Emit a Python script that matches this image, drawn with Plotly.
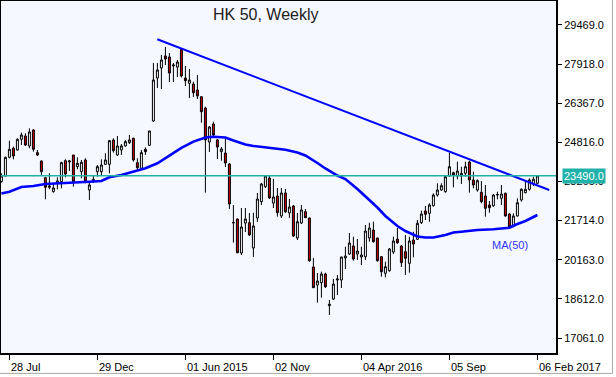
import pandas as pd
import plotly.graph_objects as go

# ---- data (weekly candles, first week 14 Jul 2014) ----
first_week = "2014-07-14"
opens = [23260, 23484, 24224, 24581, 24514, 24937, 25069, 24673, 25307, 24409,
         24079, 23418, 23035, 22863, 23193, 23260, 24092, 24040, 24316, 23854,
         23656, 24118, 22929, 23260, 23656, 23656, 23947, 23947, 24911, 24316,
         24514, 24673, 24805, 24977, 24013, 23788, 24541, 24699, 25664, 27368,
         27765, 28240, 28201, 27844, 27804, 28498, 27368, 27158, 27130, 26892,
         26627, 26179, 24831, 25545, 24914, 24447, 24395, 23959, 21620, 21779,
         20431, 21620, 21632, 20629, 21818, 22465, 23059, 23404, 22413, 22690,
         21898, 22809, 22017, 22294, 21026, 21620, 22068, 21818, 19876, 19163,
         19254, 19599, 18342, 18608, 19361, 19361, 20233, 20391, 20708, 20391,
         20272, 20285, 21026, 21343, 21026, 20285, 19626, 19729, 20471, 20986,
         20708, 20482, 20023, 20946, 20974, 21632, 22096, 22005, 22306, 22730,
         22928, 22861, 23483, 23614, 23483, 23483, 23590, 24038, 23325, 22928,
         22837, 22690, 22334, 22306, 22730, 22599, 22798, 21977, 21501, 21898,
         22532, 22822, 22956, 23166, 23194]
highs = [23590, 24250, 24884, 24647, 24977, 25201, 25175, 25373, 25333, 24514,
         24092, 23431, 23590, 23193, 23431, 24052, 24145, 24118, 24316, 24224,
         24118, 24184, 23260, 23484, 23920, 24145, 24382, 24911, 24977, 25069,
         24752, 24911, 25109, 25003, 24184, 24514, 24620, 25280, 27963, 27963,
         28280, 28597, 28359, 27963, 28082, 28557, 27844, 27725, 27221, 27487,
         26655, 26230, 25466, 25636, 24950, 24633, 24950, 23999, 22334, 21791,
         22215, 22215, 22017, 22028, 22809, 23206, 23523, 23523, 23364, 23008,
         23008, 22968, 22572, 22334, 22017, 22334, 22175, 21830, 20233, 19638,
         19690, 19650, 18568, 19400, 19559, 20285, 20681, 21224, 21077, 20986,
         20681, 21541, 21632, 21672, 21038, 20312, 20086, 20629, 21077, 21422,
         20748, 21145, 21077, 21275, 21739, 22108, 22294, 22401, 22798, 23194,
         23194, 23523, 24407, 23654, 24050, 23852, 24050, 24090, 23654, 23352,
         23285, 23127, 22492, 22770, 22861, 23127, 22822, 22005, 22005, 22599,
         22996, 23325, 23392, 23456, 23523]
lows = [23220, 23458, 24184, 24145, 24488, 24713, 24673, 24581, 24449, 24277,
        23524, 22560, 22956, 22824, 22956, 22995, 23431, 23682, 23061, 23748,
        23392, 23193, 22532, 23220, 23458, 23484, 23920, 23590, 24409, 24277,
        24316, 24647, 24752, 24052, 23722, 23722, 24316, 24673, 25625, 26972,
        26932, 27883, 27209, 27209, 27408, 27388, 27051, 26575, 26615, 26536,
        25596, 22822, 24435, 25069, 24157, 24089, 23840, 22175, 20839, 20419,
        20352, 21263, 21105, 20272, 21660, 22334, 23008, 22572, 22215, 21870,
        21818, 22017, 21818, 21065, 20946, 21581, 21818, 20086, 19044, 18461,
        18659, 19044, 17973, 18568, 18766, 19044, 19797, 20352, 20126, 20154,
        19955, 20154, 20879, 20839, 20086, 19491, 19468, 19690, 20391, 20788,
        19876, 19559, 19650, 20260, 20946, 21581, 21739, 21672, 22266, 22663,
        22901, 22822, 23456, 23035, 23352, 23166, 23456, 22822, 22996, 22861,
        22401, 21870, 22028, 22266, 22560, 22334, 21870, 21450, 21450, 21870,
        22465, 22798, 22901, 23087, 23166]
closes = [23484, 24224, 24541, 24277, 24937, 25109, 24713, 25228, 24541, 24316,
          23656, 23035, 23088, 23009, 23286, 24013, 23563, 24079, 23260, 23986,
          24026, 23260, 23127, 23352, 23854, 23920, 24118, 24884, 24488, 24673,
          24673, 24845, 24911, 24118, 23814, 24409, 24449, 25267, 27289, 27685,
          28082, 28121, 27566, 27883, 28002, 27447, 27261, 27289, 26785, 26655,
          26032, 24914, 25426, 25109, 24633, 24554, 23999, 22373, 21640, 20443,
          21462, 21779, 21145, 21501, 22572, 23166, 23483, 22611, 22651, 22028,
          22809, 22068, 22254, 21105, 21672, 22136, 21830, 20126, 19056, 19321,
          19599, 19095, 18398, 19202, 19400, 20272, 20312, 20827, 20193, 20510,
          20352, 21303, 21422, 20879, 20126, 19690, 19888, 20590, 20907, 20839,
          20047, 20221, 20907, 20788, 21608, 21977, 21965, 22334, 22730, 22928,
          23099, 23456, 23852, 23523, 23682, 23590, 23852, 23325, 23127, 23297,
          22465, 22203, 22227, 22730, 22750, 22770, 21898, 21474, 21898, 22425,
          22956, 22956, 23325, 23352, 23490]

# MA(50): week index -> value
ma_week = [0, 2, 5, 8, 11, 16, 19, 22, 25, 27, 30, 33, 36, 39, 41, 45, 48, 51, 53,
           56, 58, 61, 63, 66, 69, 71, 74, 76, 79, 81, 84, 86, 89, 91, 94, 96, 99,
           101, 104, 106, 108, 111, 113, 115, 119, 123, 127, 129, 131, 133, 134]
ma_vals = [22790, 22861, 23047, 23087, 23166, 23194, 23234, 23257, 23285, 23432,
           23523, 23654, 23789, 23987, 24185, 24601, 24847, 25010, 25037, 25010,
           24891, 24732, 24673, 24621, 24562, 24522, 24415, 24296, 23999, 23781,
           23503, 23364, 22968, 22690, 22235, 21898, 21501, 21303, 21085, 21046,
           21046, 21145, 21244, 21275, 21343, 21371, 21434, 21581, 21700, 21858,
           21937]

trend_dates = ["2015-04-12 18:00", "2017-02-26 18:00"]
trend_vals = [28902, 22928]

last_price = 23490
y_ticks = [17061, 18612, 20163, 21714, 23265, 24816, 26367, 27918, 29469]
x_tick_dates = ["2014-07-28", "2014-12-29", "2015-06-01", "2015-11-02",
                "2016-04-04", "2016-09-05", "2017-02-06"]
x_tick_text = ["28 Jul", "29 Dec", "01 Jun 2015", "02 Nov", "04 Apr 2016",
               "05 Sep", "06 Feb 2017"]
title_text = "HK 50, Weekly"
ma_label = "MA(50)"

dates = pd.date_range(first_week, periods=len(closes), freq="W-MON")
ma_dates = [dates[i] for i in ma_week]

FONT = "Arial, Liberation Sans, sans-serif"

fig = go.Figure()
fig.add_trace(go.Candlestick(
    x=dates, open=opens, high=highs, low=lows, close=closes,
    increasing=dict(line=dict(color="black", width=1), fillcolor="white"),
    decreasing=dict(line=dict(color="black", width=1), fillcolor="#C80000"),
    whiskerwidth=0, showlegend=False, hoverinfo="skip"))
fig.add_trace(go.Scatter(x=ma_dates, y=ma_vals, mode="lines",
                         line=dict(color="#0000FF", width=2.6),
                         showlegend=False, hoverinfo="skip"))
fig.add_trace(go.Scatter(x=trend_dates, y=trend_vals, mode="lines",
                         line=dict(color="#0000FF", width=2),
                         showlegend=False, hoverinfo="skip"))

fig.add_shape(type="line", xref="paper", x0=0, x1=1, yref="y",
              y0=last_price, y1=last_price,
              line=dict(color="#20B2AA", width=1.5))

# outer window frame
fig.add_shape(type="line", xref="paper", yref="paper", x0=1.1018, x1=1.1018,
              y0=-0.058, y1=1.01, line=dict(color="#A8A8A8", width=1))
fig.add_shape(type="line", xref="paper", yref="paper", x0=-0.01, x1=1.1018,
              y0=-0.058, y1=-0.058, line=dict(color="#A8A8A8", width=1))

annotations = []
for d, t in zip(x_tick_dates, x_tick_text):
    annotations.append(dict(x=d, xref="x", y=0, yref="paper", yshift=-6,
                            xanchor="left", yanchor="top", text=t, showarrow=False,
                            font=dict(family=FONT, size=11, color="black")))
annotations.append(dict(x=1, xref="paper", xshift=6, y=last_price, yref="y",
                        xanchor="left", yanchor="middle",
                        text=f"{last_price:.1f}", showarrow=False,
                        bgcolor="#20B2AA", borderpad=1,
                        font=dict(family=FONT, size=11, color="white")))
annotations.append(dict(x=0.4775, xref="paper", y=0.963, yref="paper",
                        xanchor="center", yanchor="middle", text=title_text,
                        showarrow=False,
                        font=dict(family=FONT, size=16, color="#202020")))
annotations.append(dict(x=0.917, xref="paper", y=20748, yref="y",
                        xanchor="center", yanchor="middle", text=ma_label,
                        showarrow=False,
                        font=dict(family=FONT, size=11, color="#3333FF")))

fig.update_layout(
    width=616, height=377,
    margin=dict(l=1, r=60, t=1, b=24),
    paper_bgcolor="white", plot_bgcolor="#F6F8FF",
    showlegend=False,
    annotations=annotations,
    xaxis=dict(type="date", range=["2014-07-13 07:00", "2017-03-10 13:00"],
               showgrid=False, zeroline=False, showline=True, mirror=True,
               linecolor="black", linewidth=2, ticks="outside", ticklen=5,
               tickcolor="black", tickvals=x_tick_dates, showticklabels=False,
               automargin=False, rangeslider=dict(visible=False)),
    yaxis=dict(side="right", range=[16467, 30420], showgrid=False, zeroline=False,
               showline=True, mirror=True, linecolor="black", linewidth=2,
               ticks="outside", ticklen=4, tickcolor="black", tickvals=y_ticks,
               tickformat=".1f", automargin=False,
               tickfont=dict(family=FONT, size=11, color="black")),
)

fig.write_html("out.html",
               config={"displayModeBar": False, "staticPlot": True},
               post_script="document.body.style.margin='0';"
                           "document.body.style.overflow='hidden';")
